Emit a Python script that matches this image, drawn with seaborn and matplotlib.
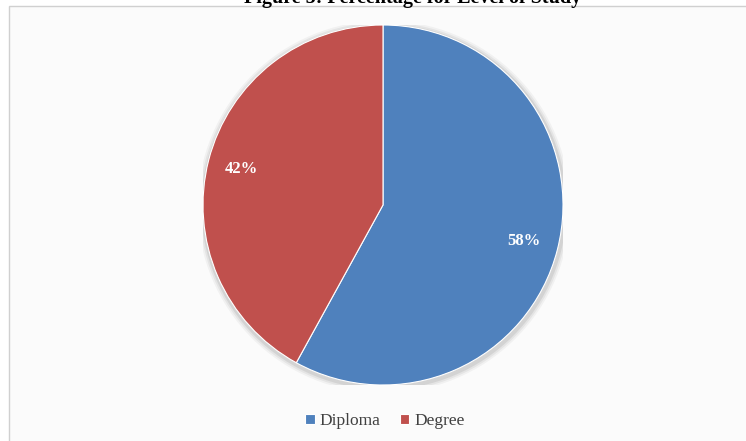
import matplotlib
matplotlib.use('Agg')
import matplotlib.pyplot as plt
from matplotlib.patches import Rectangle, Circle
import seaborn as sns

# data
levels = ['Diploma', 'Degree']
shares = [58, 42]
colours = ['#4F81BD', '#C0504D']
title = 'Figure 5: Percentage for Level of Study'

sns.set_theme(style='white')
plt.rcParams['font.family'] = ['Liberation Serif', 'DejaVu Serif']

fig = plt.figure(figsize=(7.46, 4.41), dpi=100)
fig.patch.set_facecolor('white')

# chart frame (right/bottom run off the picture)
frame = Rectangle((9 / 746, -0.01), 1.0, 1 - 6 / 441 + 0.01,
                  transform=fig.transFigure, facecolor='#fbfbfb',
                  edgecolor='#d0d0d0', linewidth=1.0, zorder=-5)
fig.add_artist(frame)

fig.text(0.553, 1 - 3.5 / 441, title, ha='center', va='baseline',
         fontsize=14.5, fontweight='bold', color='black')

ax = fig.add_axes([(383 - 180) / 746, (441 - 385) / 441, 360 / 746, 360 / 441])
ax.set_zorder(2)
ax.patch.set_alpha(0)

# soft shadow behind the pie
for r, a in [(1.035, 0.04), (1.025, 0.05), (1.015, 0.07)]:
    ax.add_patch(Circle((0.005, -0.01), r, facecolor='black', alpha=a,
                        edgecolor='none', zorder=0))

wedges, texts, autotexts = ax.pie(shares, colors=colours, startangle=90,
                                  counterclock=False, autopct='%d%%',
                                  pctdistance=0.81, radius=1,
                                  wedgeprops=dict(linewidth=0.8, edgecolor='white', zorder=1))
for t in autotexts:
    t.set_color('white')
    t.set_fontweight('bold')
    t.set_fontsize(12)
ax.set_xlim(-1, 1)
ax.set_ylim(-1, 1)
ax.set_aspect('equal')
ax.axis('off')

fig.legend(wedges, levels, loc='center', bbox_to_anchor=(385 / 746, 1 - 421 / 441),
           ncol=2, frameon=False, fontsize=12.5, handlelength=0.55, handleheight=0.55,
           handletextpad=0.3, columnspacing=1.1, labelcolor='#404040')

fig.savefig('out.png', dpi=100, facecolor='white')
